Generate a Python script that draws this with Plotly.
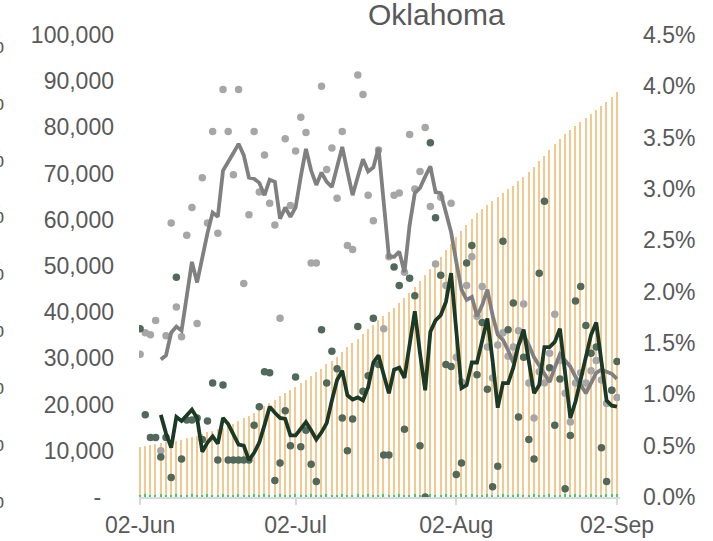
import plotly.graph_objects as go
import pandas as pd

# ---------------- data ----------------
dates = pd.date_range("2020-06-02", "2020-09-02", freq="D")

cum_cases = [10800, 11000, 11300, 11500, 11700, 11900, 12000, 12200, 12400, 12700,
             13000, 13300, 13600, 14000, 14300, 14700, 15000, 15500, 15800, 16500,
             17100, 17600, 18200, 18800, 19600, 20300, 21000, 21800, 22500, 23200,
             23900, 24700, 25300, 26200, 27100, 27800, 28700, 29400, 30300, 31400,
             32400, 33300, 34300, 35300, 36300, 37300, 38300, 39200, 40000, 41000,
             42000, 43100, 44200, 45500, 46800, 48100, 49400, 50600, 51900, 53400,
             54800, 56200, 57600, 58900, 60200, 61500, 62300, 63200, 64100, 64900,
             65700, 66600, 67400, 68300, 69200, 70300, 71500, 72700, 73900, 75100,
             76300, 77500, 78600, 79400, 80300, 81200, 82000, 82900, 83800, 84600,
             85500, 86600, 87700]

daily_small = [500, 600, 400, 500, 700, 500, 400, 600, 500, 500,
               600, 400, 500, 700, 500, 500, 600, 400, 500, 600,
               500, 400, 600, 500, 700, 500, 400, 600, 500, 500,
               600, 400, 500, 700, 500, 500, 600, 400, 500, 600,
               500, 400, 600, 500, 700, 500, 400, 600, 500, 500,
               600, 400, 500, 700, 500, 500, 600, 400, 500, 600,
               500, 400, 600, 500, 700, 500, 400, 600, 500, 500,
               600, 400, 500, 700, 500, 500, 600, 400, 500, 600,
               500, 400, 600, 500, 700, 500, 400, 600, 500, 500,
               600, 700, 600]

gray_dots = [1.39, 1.60, 1.58, 1.72, 0.45, 1.57, 2.67, 1.85, 1.56, 2.55,
             2.82, 1.69, 3.11, 2.67, 3.56, 2.57, 3.97, 3.56, 3.14, 3.97,
             2.08, 2.75, 3.56, 2.97, 3.33, 2.86, 2.65, 1.74, 3.49, 2.84,
             3.37, 3.70, 3.55, 2.28, 2.28, 4.00, 3.19, 3.40, 2.91, 3.56,
             2.45, 2.41, 4.11, 3.92, 2.94, 2.69, 3.38, 1.64, 2.34, 2.94,
             2.96, 2.19, 3.53, 3.00, 3.17, 3.60, 2.83, 2.27, 2.92, 2.06,
             2.86, 1.36, 1.12, 2.06, 2.34, 1.76, 2.05, 1.46, 1.16, 1.48,
             1.60, 1.37, 1.46, 1.62, 1.88, 1.11, 0.77, 1.22, 1.11, 1.40,
             1.78, 1.33, 1.01, 0.73, 1.11, 1.21, 1.11, 1.23, 1.33, 1.14,
             0.91, 1.04, 0.97]

gray_avg = [None, None, None, None, 1.34, 1.38, 1.60, 1.66, 1.62, 1.95,
            2.29, 2.09, 2.34, 2.57, 2.77, 2.73, 3.18, 3.26, 3.35, 3.44,
            3.33, 3.11, 3.10, 3.06, 2.94, 3.09, 3.07, 2.71, 2.82, 2.73,
            2.82, 3.12, 3.39, 3.18, 3.04, 3.16, 3.07, 3.02, 3.21, 3.41,
            3.17, 2.94, 3.12, 3.29, 3.17, 3.21, 3.40, 2.89, 2.34, 2.34,
            2.39, 2.19, 2.65, 2.96, 3.01, 3.12, 3.22, 2.97, 2.96, 2.77,
            2.58, 2.29, 2.02, 1.92, 1.95, 1.76, 1.87, 2.02, 1.77, 1.58,
            1.53, 1.43, 1.31, 1.48, 1.58, 1.48, 1.36, 1.28, 1.20, 1.12,
            1.26, 1.39, 1.33, 1.27, 1.17, 1.09, 1.01, 1.11, 1.21, 1.24,
            1.22, 1.20, 1.15]

green_dots = [1.64, 0.80, 0.58, 0.58, 0.39, 0.58, 0.19, 2.14, 0.37, 0.75,
              0.75, 0.77, 0.56, 0.74, 1.11, 0.36, 1.09, 0.36, 0.36, 0.36,
              0.36, 0.36, 0.70, 0.88, 1.22, 1.21, 0.16, 0.33, 0.84, 0.50,
              1.17, 0.49, 0.65, 0.32, 0.15, 1.63, 1.11, 1.42, 1.25, 0.77,
              0.45, 0.76, 1.66, 1.03, 1.18, 1.74, 1.29, 0.41, 0.41, 2.24,
              2.06, 0.66, 2.13, 1.96, 0.50, 0.00, 3.45, 2.72, 2.16, 1.29,
              1.27, 0.22, 0.33, 2.28, 2.45, 1.19, 1.70, 1.05, 0.10, 0.30,
              2.49, 1.63, 1.89, 0.78, 1.36, 0.56, 0.37, 2.18, 2.88, 1.26,
              0.70, 1.15, 0.08, 0.60, 1.91, 2.05, 1.67, 1.40, 1.46, 0.48,
              0.15, 1.04, 1.32]

green_avg = [None, None, None, None, 0.80, 0.62, 0.48, 0.78, 0.74, 0.80,
             0.85, 0.77, 0.44, 0.53, 0.59, 0.52, 0.77, 0.71, 0.60, 0.51,
             0.50, 0.36, 0.43, 0.53, 0.70, 0.88, 0.82, 0.77, 0.76, 0.60,
             0.60, 0.67, 0.73, 0.65, 0.56, 0.63, 0.72, 0.94, 1.14, 1.23,
             0.99, 0.95, 0.97, 0.94, 1.07, 1.31, 1.38, 1.19, 1.01, 1.24,
             1.26, 1.16, 1.50, 1.81, 1.40, 1.04, 1.61, 1.72, 1.77, 1.90,
             2.18, 1.60, 1.06, 1.09, 1.31, 1.31, 1.53, 1.74, 1.33, 0.87,
             1.11, 1.11, 1.26, 1.48, 1.63, 1.33, 1.01, 1.09, 1.46, 1.46,
             1.51, 1.64, 1.19, 0.77, 0.93, 1.16, 1.38, 1.58, 1.70, 1.33,
             0.94, 0.89, 0.88]

x_tick_dates = ["2020-06-02", "2020-07-02", "2020-08-02", "2020-09-02"]
x_tick_labels = ["02-Jun", "02-Jul", "02-Aug", "02-Sep"]
left_tick_vals = [0, 10000, 20000, 30000, 40000, 50000, 60000, 70000, 80000, 90000, 100000]
left_tick_labels = ["-\u00a0\u00a0", "10,000", "20,000", "30,000", "40,000", "50,000",
                    "60,000", "70,000", "80,000", "90,000", "100,000"]
right_tick_vals = [0, 0.5, 1.0, 1.5, 2.0, 2.5, 3.0, 3.5, 4.0, 4.5]
right_tick_labels = ["0.0%", "0.5%", "1.0%", "1.5%", "2.0%", "2.5%", "3.0%", "3.5%", "4.0%", "4.5%"]
hidden_axis_vals = [0, 1, 2, 3, 4, 5, 6, 7, 8]

# ---------------- figure ----------------
W, H = 713, 541
ML, MR, MT, MB = 139, 93, 35, 44
PW, PH = W - ML - MR, H - MT - MB
TXT = "#595959"
FONT = "Liberation Sans, Arial, sans-serif"
DAY = 86400000

fig = go.Figure()
fig.add_bar(x=dates, y=cum_cases, width=0.28 * DAY, marker=dict(color="#F3C990", line_width=0),
            yaxis="y", hoverinfo="skip")
fig.add_bar(x=dates, y=daily_small, width=0.28 * DAY, marker=dict(color="#3ECF72", line_width=0),
            yaxis="y", hoverinfo="skip")
fig.add_scatter(x=dates, y=gray_dots, mode="markers", yaxis="y2",
                marker=dict(size=7.5, color="#A6A6A6"))
fig.add_scatter(x=dates, y=green_dots, mode="markers", yaxis="y2",
                marker=dict(size=7.5, color="#50695A"))
fig.add_scatter(x=dates, y=gray_avg, mode="lines", yaxis="y2",
                line=dict(color="#808080", width=3.8))
fig.add_scatter(x=dates, y=green_avg, mode="lines", yaxis="y2",
                line=dict(color="#1B3A25", width=3.8))

annotations = [dict(text="Oklahoma", x=(436 - ML) / PW, y=(H - MB - 15) / PH,
                    xref="paper", yref="paper", showarrow=False, xanchor="center", yanchor="middle",
                    font=dict(size=30, color=TXT, family=FONT))]
# labels of a third (cut-off) axis at the left edge
for k in hidden_axis_vals:
    ypx = 500 - 56.9 * k
    annotations.append(dict(text=f"{k}%", x=(6 - ML) / PW, y=(H - MB - ypx) / PH,
                            xref="paper", yref="paper", showarrow=False,
                            xanchor="right", yanchor="middle",
                            font=dict(size=23, color=TXT, family=FONT)))

fig.update_layout(
    width=W, height=H, margin=dict(l=ML, r=MR, t=MT, b=MB, autoexpand=False),
    paper_bgcolor="white", plot_bgcolor="white",
    barmode="overlay", bargap=0, showlegend=False,
    font=dict(family=FONT, size=23, color=TXT),
    annotations=annotations,
    xaxis=dict(type="date", range=["2020-06-01 19:00", "2020-09-02 14:00"],
               tickvals=x_tick_dates, ticktext=x_tick_labels, automargin=False,
               showgrid=False, zeroline=False, showline=True, linecolor="#D9D9D9", linewidth=2,
               ticks="outside", ticklen=6, tickwidth=2, tickcolor="#D9D9D9",
               tickfont=dict(size=23, color=TXT), ticklabelstandoff=0),
    yaxis=dict(range=[0, 100000], tickvals=left_tick_vals, ticktext=left_tick_labels,
               automargin=False,
               showgrid=False, zeroline=False, showline=False, ticks="",
               tickfont=dict(size=23, color=TXT), ticklabelstandoff=24),
    yaxis2=dict(range=[0, 4.5], overlaying="y", side="right", automargin=False,
                tickvals=right_tick_vals, ticktext=right_tick_labels,
                showgrid=False, zeroline=False, showline=False, ticks="",
                tickfont=dict(size=23, color=TXT), ticklabelstandoff=22),
)

fig.write_html("out.html", config={"displayModeBar": False},
               post_script="document.body.style.margin='0px';document.body.style.overflow='hidden';")
